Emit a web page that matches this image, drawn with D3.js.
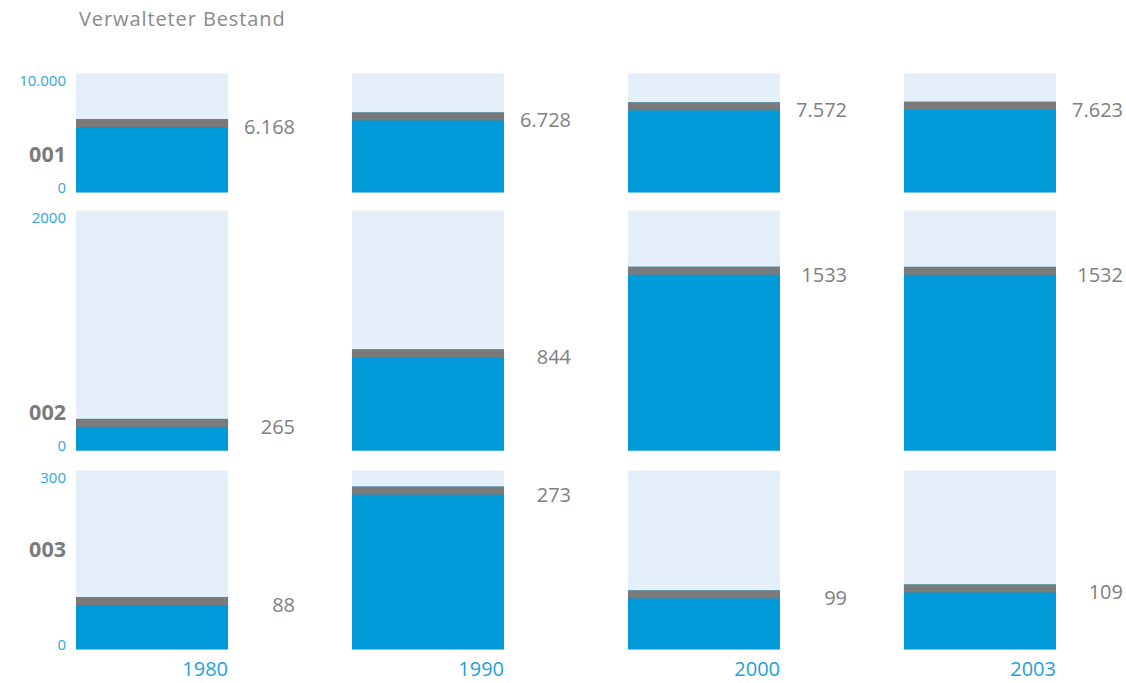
<!DOCTYPE html>
<html>
<head>
<meta charset="utf-8">
<script src="https://cdn.jsdelivr.net/npm/d3@7"></script>
<style>
  html, body { margin: 0; padding: 0; background: #fff; }
  svg { display: block; font-family: "Open Sans", "Noto Sans", sans-serif; }
</style>
</head>
<body>
<svg id="chart" width="1126" height="683"></svg>
<script>
// Verwalteter Bestand – three groups, four survey years
const years = ["1980", "1990", "2000", "2003"];
const groups = ["001", "002", "003"];
const values001 = [6168, 6728, 7572, 7623];
const values002 = [265, 844, 1533, 1532];
const values003 = [88, 273, 99, 109];
const axisMax = [10000, 2000, 300];
const groupThousands = [true, false, false];
const title = "Verwalteter Bestand";

const seriesByGroup = [values001, values002, values003];

// layout
const width = 1126, height = 683;
const rowBands = [[73.5, 192.5], [210.7, 450.7], [470.5, 649.5]];
const groupLabelY = [161.7, 420, 556.7];
const capHeight = 8;

const colors = {
  back: "#e5eff9",
  bar: "#009ad9",
  cap: "#7a7a7a",
  value: "#808080",
  tick: "#2aa8e0",
  year: "#1f9fda",
  group: "#7b7b7b",
  title: "#8a8a8a"
};

const deLocale = d3.formatLocale({ decimal: ",", thousands: ".", grouping: [3], currency: ["", " €"] });
const fmtGrouped = deLocale.format(",d");
const fmtPlain = d3.format("d");

const svg = d3.select("#chart");

svg.append("text")
  .attr("x", 79).attr("y", 26)
  .attr("font-size", 20).attr("letter-spacing", 0.9)
  .attr("fill", colors.title)
  .text(title);

const x = d3.scaleBand()
  .domain(years)
  .range([76, 1056])
  .paddingInner(0.449)
  .paddingOuter(0);

groups.forEach((g, gi) => {
  const [top, bottom] = rowBands[gi];
  const y = d3.scaleLinear().domain([0, axisMax[gi]]).range([bottom, top]);
  const fmt = groupThousands[gi] ? fmtGrouped : fmtPlain;
  const data = years.map((yr, i) => ({ year: yr, value: seriesByGroup[gi][i] }));

  const row = svg.append("g").attr("class", "row row-" + g);

  // background columns
  row.selectAll("rect.back").data(data).join("rect")
    .attr("class", "back")
    .attr("x", d => x(d.year)).attr("width", x.bandwidth())
    .attr("y", y(axisMax[gi])).attr("height", y(0) - y(axisMax[gi]))
    .attr("fill", colors.back);

  // value bars
  row.selectAll("rect.bar").data(data).join("rect")
    .attr("class", "bar")
    .attr("x", d => x(d.year)).attr("width", x.bandwidth())
    .attr("y", d => y(d.value)).attr("height", d => y(0) - y(d.value))
    .attr("fill", colors.bar);

  // grey caps on top of each bar
  row.selectAll("rect.cap").data(data).join("rect")
    .attr("class", "cap")
    .attr("x", d => x(d.year)).attr("width", x.bandwidth())
    .attr("y", d => y(d.value))
    .attr("height", d => Math.min(capHeight, y(0) - y(d.value)))
    .attr("fill", colors.cap);

  // value labels
  row.selectAll("text.val").data(data).join("text")
    .attr("class", "val")
    .attr("x", d => x(d.year) + x.bandwidth() + 67)
    .attr("y", d => y(d.value) + 15)
    .attr("text-anchor", "end")
    .attr("font-size", 20)
    .attr("fill", colors.value)
    .text(d => fmt(d.value));

  // axis: just the two extremes
  const ticks = [0, axisMax[gi]];
  row.selectAll("text.tick").data(ticks).join("text")
    .attr("class", "tick")
    .attr("x", 66)
    .attr("y", d => d === 0 ? y(0) : y(d) + 12.5)
    .attr("text-anchor", "end")
    .attr("font-size", 15)
    .attr("fill", colors.tick)
    .text(d => fmt(d));

  // group name
  row.append("text")
    .attr("x", 66).attr("y", groupLabelY[gi])
    .attr("text-anchor", "end")
    .attr("font-size", 21.5).attr("font-weight", "bold")
    .attr("fill", colors.group)
    .text(g);
});

// year labels under the last row
svg.append("g").selectAll("text").data(years).join("text")
  .attr("x", d => x(d) + x.bandwidth())
  .attr("y", 676)
  .attr("text-anchor", "end")
  .attr("font-size", 20)
  .attr("fill", colors.year)
  .text(d => d);
</script>
</body>
</html>
